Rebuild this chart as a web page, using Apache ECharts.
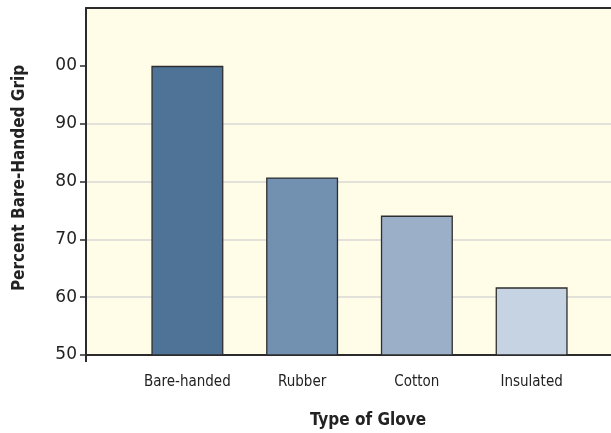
<!DOCTYPE html>
<html>
<head>
<meta charset="utf-8">
<script src="https://cdn.jsdelivr.net/npm/echarts@6/dist/echarts.min.js"></script>
<style>
  html, body { margin: 0; padding: 0; background: #ffffff; }
  #chart { width: 611px; height: 433px; }
</style>
</head>
<body>
<div id="chart"></div>
<script>
// Grip strength retained with each glove type, as percent of bare-handed grip
const gloveTypes = ['Bare-handed', 'Rubber', 'Cotton', 'Insulated'];
const gripPercent = [100, 80.7, 74.1, 61.7];
const barColors = ['#4e7397', '#7290b0', '#9bb0c8', '#c6d3e2'];
const yTickValues = [50, 60, 70, 80, 90, 100];
const yTickLabels = ['50', '60', '70', '80', '90', '00'];

const chart = echarts.init(document.getElementById('chart'));

const TOP = 8, BOTTOM = 78;
const frame = { color: '#2b2b2b', width: 2 };

chart.setOption({
  animation: false,
  grid: [
    // background and value scale
    { left: 86, right: 0, top: TOP, bottom: BOTTOM, show: true,
      backgroundColor: '#fffce8', borderWidth: 0 },
    // category band holding the bars
    { left: 130, width: 459, top: TOP, bottom: BOTTOM }
  ],
  xAxis: [
    { type: 'value', gridIndex: 0, min: 0, max: 100, interval: 100,
      axisLine: { show: true, lineStyle: frame },
      axisTick: { show: true, length: 7, customValues: [0], lineStyle: frame },
      axisLabel: { show: false }, splitLine: { show: false } },
    { type: 'value', gridIndex: 0, position: 'top', min: 0, max: 100,
      axisLine: { show: true, lineStyle: frame },
      axisTick: { show: false }, axisLabel: { show: false }, splitLine: { show: false } },
    { type: 'category', gridIndex: 1, data: gloveTypes,
      axisLine: { show: false }, axisTick: { show: false },
      axisLabel: { color: '#222', fontFamily: 'DejaVu Sans Condensed', fontSize: 15, margin: 20 } }
  ],
  yAxis: [
    { type: 'value', gridIndex: 0, min: 50, max: 110, interval: 10,
      axisLine: { show: true, lineStyle: frame },
      axisTick: { show: true, length: 6, customValues: yTickValues,
        lineStyle: { color: '#2b2b2b', width: 1.5 } },
      axisLabel: { color: '#222', fontFamily: 'DejaVu Sans', fontSize: 17, margin: 9,
        customValues: yTickValues,
        formatter: v => yTickLabels[yTickValues.indexOf(v)] || '' },
      splitLine: { show: true, showMaxLine: false, lineStyle: { color: '#d9d9d6', width: 1.5 } } },
    { type: 'value', gridIndex: 1, min: 50, max: 110, interval: 10, show: false }
  ],
  series: [{
    type: 'bar',
    xAxisIndex: 2, yAxisIndex: 1,
    barWidth: 72,
    data: gripPercent.map((v, i) => ({ value: v, itemStyle: { color: barColors[i] } })),
    itemStyle: { borderColor: '#2e2e2e', borderWidth: 1.3 }
  }],
  graphic: [
    { type: 'text', x: 20, y: 178, rotation: Math.PI / 2,
      style: { text: 'Percent Bare-Handed Grip', fill: '#222', font: 'bold 17px "DejaVu Sans Condensed"',
        align: 'center', verticalAlign: 'middle' } },
    { type: 'text', x: 368, y: 421,
      style: { text: 'Type of Glove', fill: '#222', font: 'bold 17px "DejaVu Sans Condensed"',
        align: 'center', verticalAlign: 'middle' } }
  ]
});
</script>
</body>
</html>
